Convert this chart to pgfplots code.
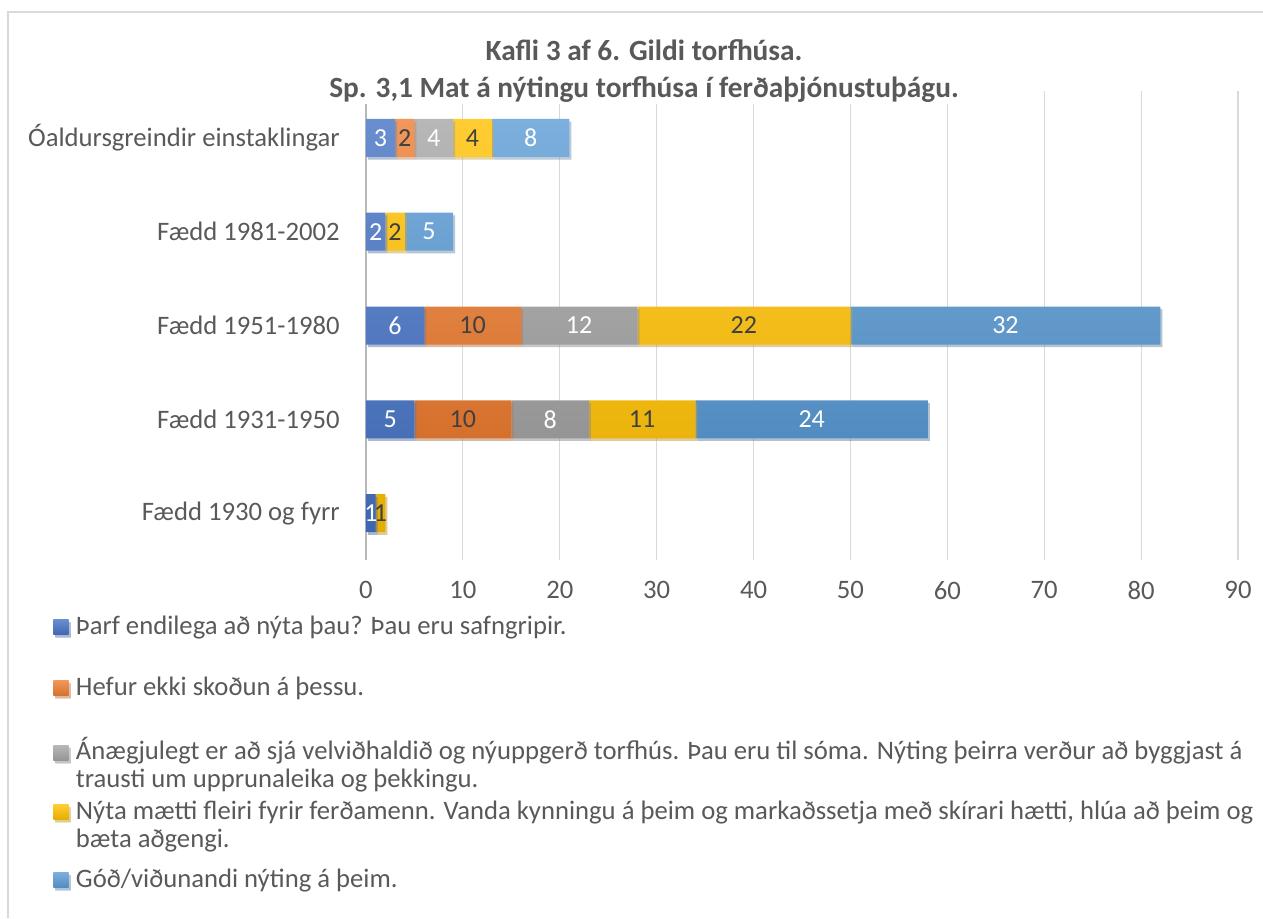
\documentclass[border=0pt]{standalone}
\usepackage{pgfplots}
\pgfplotsset{compat=1.18}
\usepackage{pgfplotstable}
\usepackage{fontspec}
\setmainfont{Carlito}
\usetikzlibrary{shadows}
\definecolor{cA}{HTML}{4472C4}
\definecolor{cB}{HTML}{ED7D31}
\definecolor{cC}{HTML}{A5A5A5}
\definecolor{cD}{HTML}{FFC000}
\definecolor{cE}{HTML}{5B9BD5}
\definecolor{txt}{HTML}{595959}
\definecolor{dark}{HTML}{404040}
\definecolor{gridc}{HTML}{D9D9D9}
\pgfplotstableread{
y a b c d e
0 1 0 0 1 0
1 5 10 8 11 24
2 6 10 12 22 32
3 2 0 0 2 5
4 3 2 4 4 8
}\data
\pgfplotsset{
  glossy/.style={draw=none, top color=#1!80!white, bottom color=#1!90!black,
    drop shadow={shadow xshift=1.5pt, shadow yshift=-2pt, opacity=0.3}},
  lab/.style={draw=none, mark=none, point meta=explicit,
    nodes near coords={\pgfmathprintnumber[assume math mode=true]{\pgfplotspointmeta}},
    every node near coord/.append style={anchor=center, text=#1,
      font=\fontsize{19.5}{22}\selectfont}},
  common/.style={at={(274.5pt,-420pt)}, anchor=south west, scale only axis,
    width=654pt, height=351.75pt, xmin=0, xmax=90, ymin=-0.5, ymax=4.5, clip=false},
}
\newcommand\leg[2]{\parbox[t][#1][t]{900pt}{\raggedright\strut #2}}
\begin{document}
\begin{tikzpicture}
\begin{axis}[common,
  xbar stacked, bar width=28.5pt,
  /pgf/number format/assume math mode=true,
  xtick={0,10,...,90}, ytick={0,...,4},
  yticklabels={Fædd 1930 og fyrr, Fædd 1931-1950, Fædd 1951-1980, Fædd 1981-2002, Óaldursgreindir einstaklingar},
  axis lines*=left,
  x axis line style={draw=none},
  y axis line style={draw=gridc!85!black, line width=0.8pt},
  xmajorgrids, grid style={draw=gridc, line width=0.8pt},
  major tick length=0pt,
  ticklabel style={font=\fontsize{20}{22}\selectfont, text=txt},
  xticklabel style={inner sep=0pt, anchor=north, yshift=-16pt},
  yticklabel style={inner sep=0pt, anchor=east, xshift=-19.5pt},
  legend style={at={(-0.3589,-0.116)}, anchor=north west, draw=none, fill=none,
    inner sep=0pt, row sep=0pt, column sep=0pt, cells={anchor=base west},
    nodes={inner sep=0pt, text depth=},
    font=\fontsize{20}{21}\selectfont, text=txt,
    /tikz/every odd column/.append style={column sep=5.5pt}},
  legend image code/.code={\path[#1] (0pt,-0.3pt) rectangle (11.5pt,11pt);},
]
\addplot[glossy=cA] table[x=a,y=y] {\data};
\addplot[glossy=cB] table[x=b,y=y] {\data};
\addplot[glossy=cC] table[x=c,y=y] {\data};
\addplot[glossy=cD] table[x=d,y=y] {\data};
\addplot[glossy=cE] table[x=e,y=y] {\data};
\addlegendentry{\leg{45.75pt}{Þarf endilega að nýta þau? Þau eru safngripir.}}
\addlegendentry{\leg{46.5pt}{Hefur ekki skoðun á þessu.}}
\addlegendentry{\leg{46.5pt}{Ánægjulegt er að sjá velviðhaldið og nýuppgerð torfhús. Þau eru til sóma. Nýting þeirra verður að byggjast á\\trausti um upprunaleika og þekkingu.}}
\addlegendentry{\leg{51pt}{Nýta mætti fleiri fyrir ferðamenn. Vanda kynningu á þeim og markaðssetja með skírari hætti, hlúa að þeim og\\bæta aðgengi.}}
\addlegendentry{\leg{20pt}{Góð/viðunandi nýting á þeim.}}
\end{axis}
\begin{axis}[common, hide axis]
\addplot[lab=white, restrict expr to domain={\thisrow{a}}{0.5:1000}]
  table[x expr=\thisrow{a}/2, y=y, meta=a] {\data};
\addplot[lab=dark, restrict expr to domain={\thisrow{b}}{0.5:1000}]
  table[x expr=\thisrow{a}+\thisrow{b}/2, y=y, meta=b] {\data};
\addplot[lab=white, restrict expr to domain={\thisrow{c}}{0.5:1000}]
  table[x expr=\thisrow{a}+\thisrow{b}+\thisrow{c}/2, y=y, meta=c] {\data};
\addplot[lab=dark, restrict expr to domain={\thisrow{d}}{0.5:1000}]
  table[x expr=\thisrow{a}+\thisrow{b}+\thisrow{c}+\thisrow{d}/2, y=y, meta=d] {\data};
\addplot[lab=white, restrict expr to domain={\thisrow{e}}{0.5:1000}]
  table[x expr=\thisrow{a}+\thisrow{b}+\thisrow{c}+\thisrow{d}+\thisrow{e}/2, y=y, meta=e] {\data};
\end{axis}
\node[align=center, fill=white, inner sep=1.5pt, anchor=base, text=txt,
  font=\fontsize{22}{27.75}\selectfont\bfseries] at (483pt,-72.75pt)
  {Kafli 3 af 6. Gildi torfhúsa.\\Sp. 3,1 Mat á nýtingu torfhúsa í ferðaþjónustuþágu.};
\draw[gridc, line width=1.1pt] (6pt,-688.5pt) -- (6pt,-9pt) -- (947.25pt,-9pt);
\pgfresetboundingbox
\path[use as bounding box] (0pt,0pt) rectangle (947.25pt,-688.5pt);
\end{tikzpicture}
\end{document}
